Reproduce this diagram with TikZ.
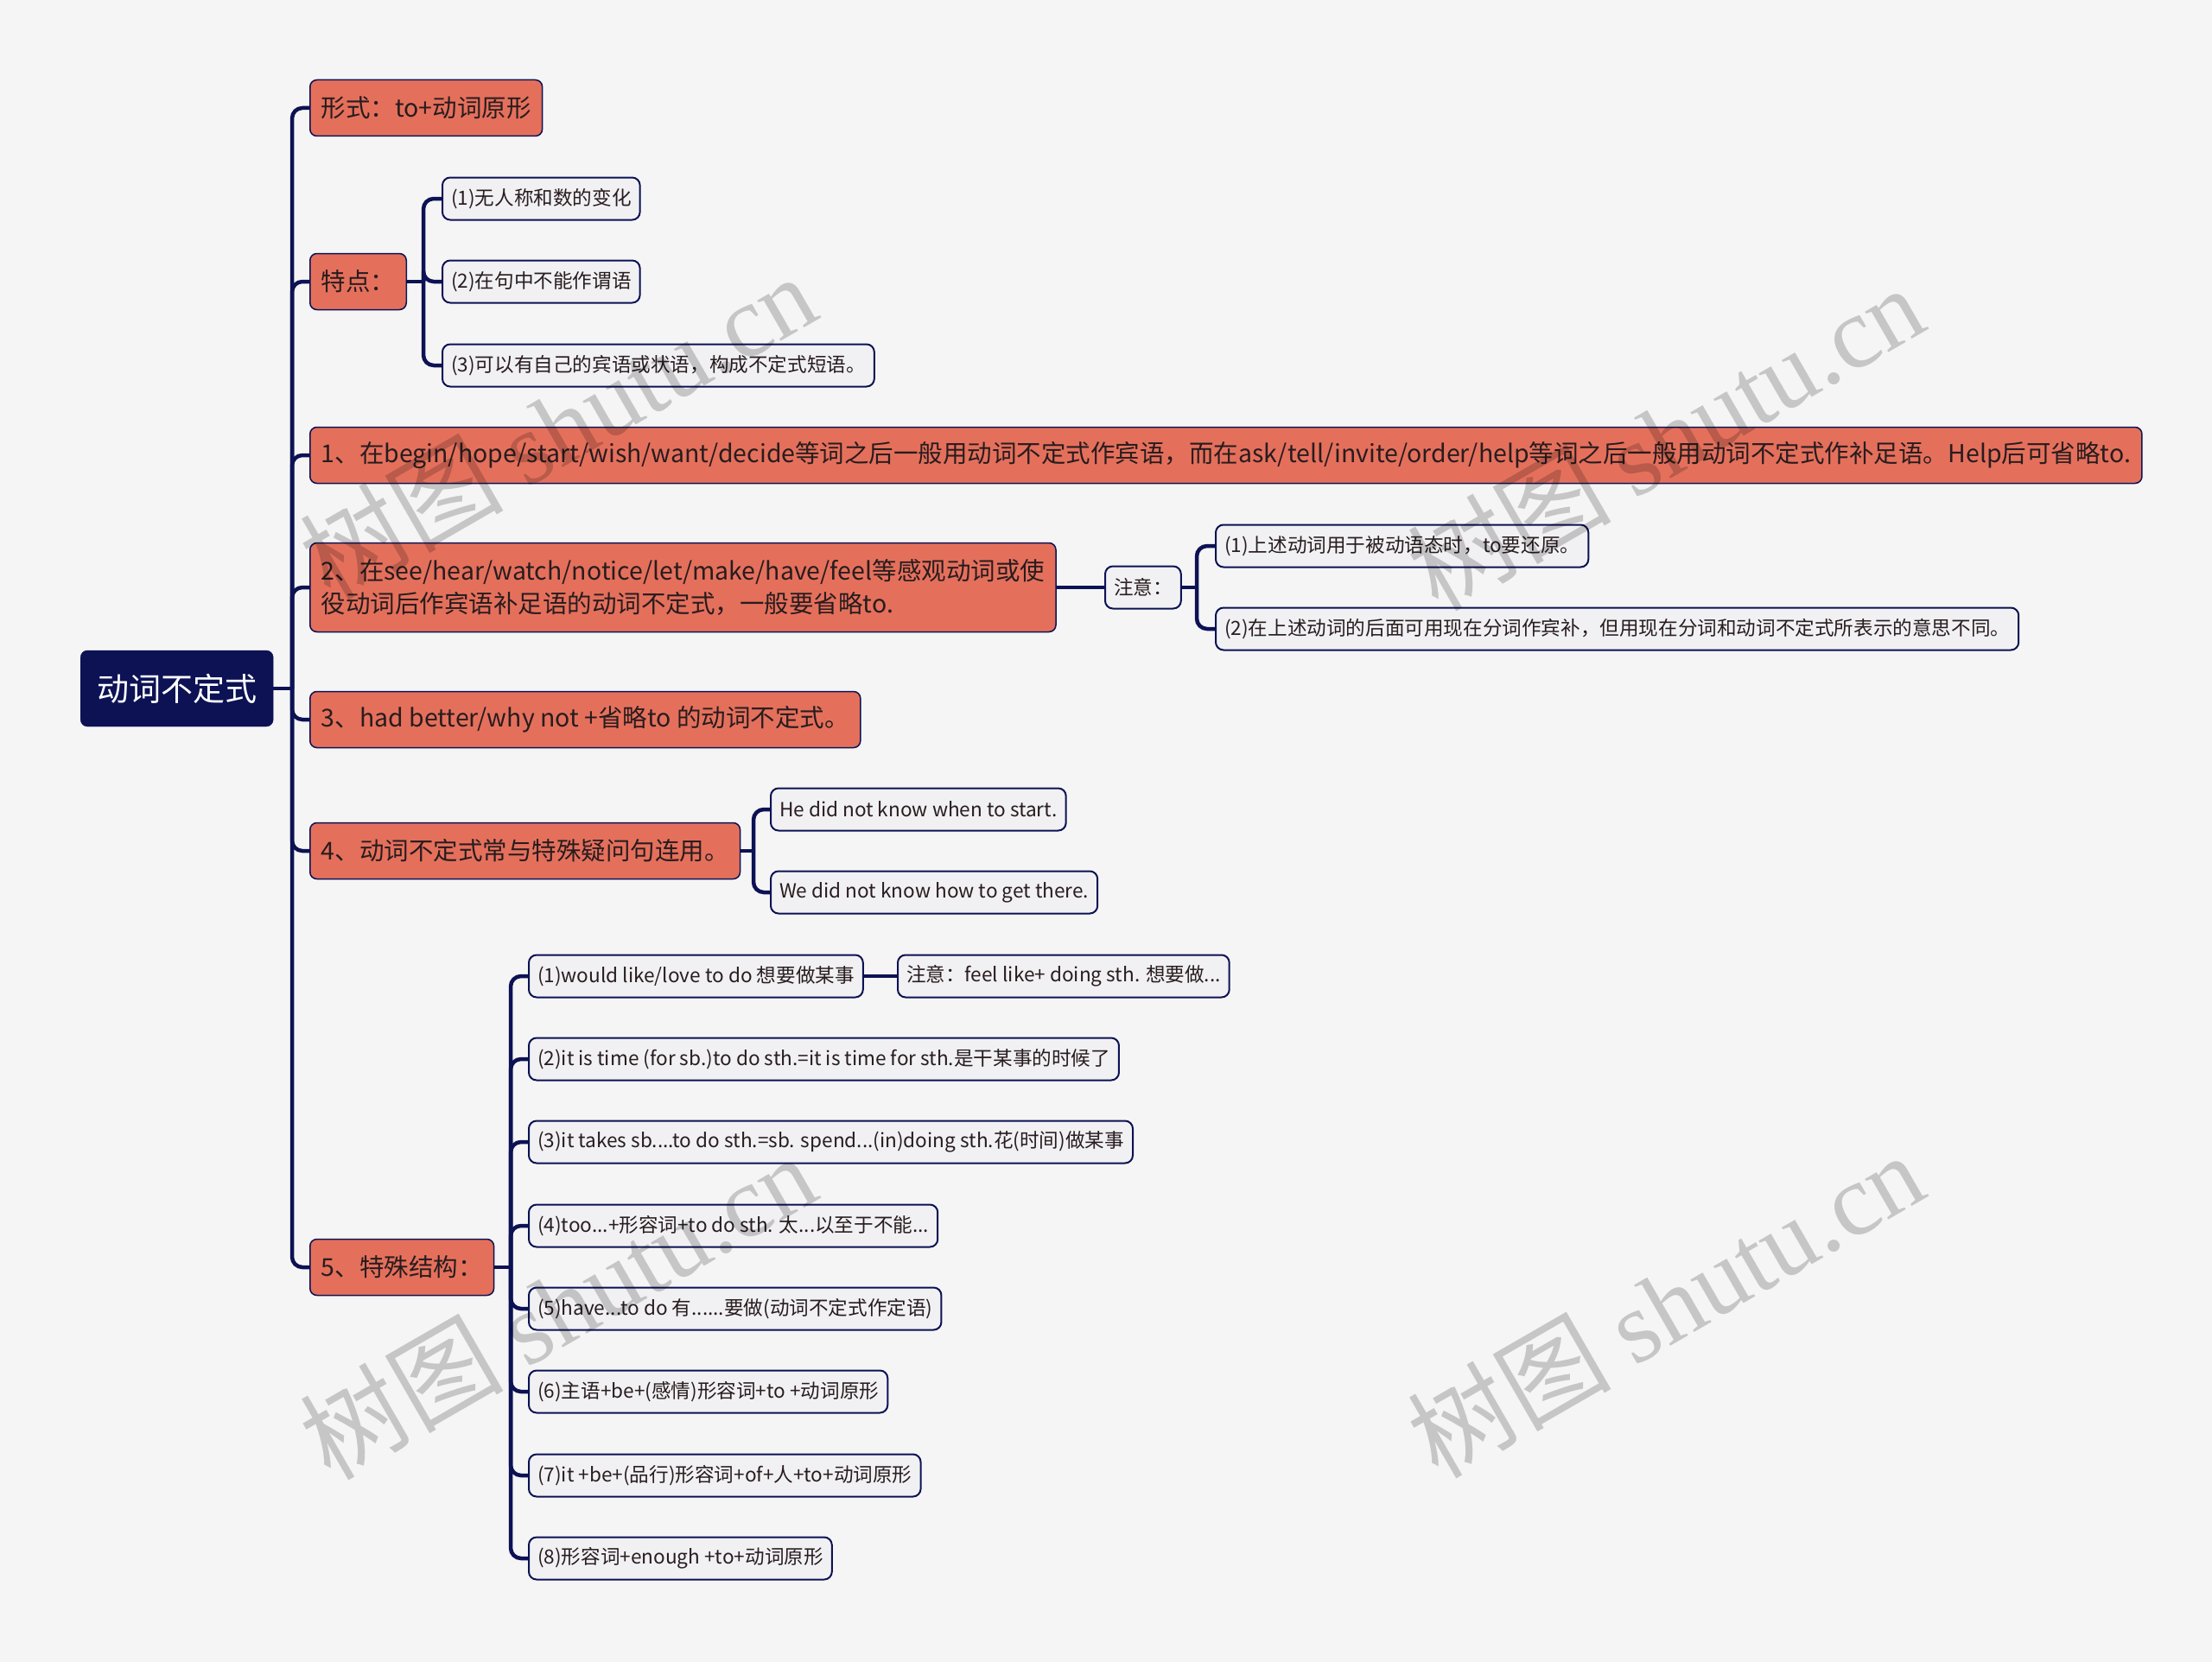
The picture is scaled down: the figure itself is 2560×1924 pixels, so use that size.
\documentclass[tikz,border=0pt]{standalone}
\usepackage{fontspec}
\setmainfont{Noto Sans CJK SC}
\newfontfamily\wmserif{Liberation Serif}
\usetikzlibrary{positioning, calc}
\definecolor{mapnavy}{RGB}{12, 18, 84}
\definecolor{mapcoral}{RGB}{228, 112, 92}
\definecolor{mapleaf}{RGB}{241, 241, 243}
\definecolor{mapbg}{RGB}{245, 245, 245}
\definecolor{mapink}{RGB}{40, 28, 30}

\begin{document}
\begin{tikzpicture}[x=1pt, y=-1pt,
    rootbox/.style={fill=mapnavy, draw=mapnavy, rounded corners=8pt, text=white,
        font=\fontsize{37}{44}\selectfont, minimum height=88pt, inner xsep=19pt, anchor=west},
    topic/.style={fill=mapcoral, draw=mapnavy, line width=1.5pt, rounded corners=8pt, text=mapink,
        font=\fontsize{28.5}{37.5}\selectfont, minimum height=65pt, inner xsep=13pt, anchor=west, align=left},
    leaf/.style={fill=mapleaf, draw=mapnavy, line width=2pt, rounded corners=9pt, text=mapink,
        font=\fontsize{22.6}{28}\selectfont, minimum height=49pt, inner xsep=10pt, anchor=west},
    branch/.style={draw=mapnavy, line width=4.5pt, rounded corners=12pt},
    watermark/.style={text=black, opacity=0.19, rotate=30, font=\fontsize{118}{118}\selectfont}
]
    % Canvas
    \fill[mapbg] (0,0) rectangle (2560,1924);

    % Root
    \node[rootbox] (root) at (93,797) {动词不定式};

    % Main topics
    \node[topic] (form) at (358,125) {形式：to+动词原形};
    \node[topic] (feat) at (358,326) {特点：};
    \node[topic] (r1) at (358,527) {1、在begin/hope/start/wish/want/decide等词之后一般用动词不定式作宾语，而在ask/tell/invite/order/help等词之后一般用动词不定式作补足语。Help后可省略to.};
    \node[topic, minimum height=103pt] (r2) at (358,680) {2、在see/hear/watch/notice/let/make/have/feel等感观动词或使\\役动词后作宾语补足语的动词不定式，一般要省略to.};
    \node[topic] (r3) at (358,833) {3、had better/why not +省略to 的动词不定式。};
    \node[topic] (r4) at (358,985) {4、动词不定式常与特殊疑问句连用。};
    \node[topic] (r5) at (358,1467) {5、特殊结构：};

    % Features
    \node[leaf] (f1) at (511,230) {(1)无人称和数的变化};
    \node[leaf] (f2) at (511,326) {(2)在句中不能作谓语};
    \node[leaf] (f3) at (511,423) {(3)可以有自己的宾语或状语，构成不定式短语。};

    % Note on topic 2
    \node[leaf] (note) at (1278,680) {注意：};
    \node[leaf] (n1) at (1406,632) {(1)上述动词用于被动语态时，to要还原。};
    \node[leaf] (n2) at (1406,728) {(2)在上述动词的后面可用现在分词作宾补，但用现在分词和动词不定式所表示的意思不同。};

    % Examples on topic 4
    \node[leaf] (e1) at (891,937) {He did not know when to start.};
    \node[leaf] (e2) at (891,1033) {We did not know how to get there.};

    % Special structures
    \node[leaf] (s1) at (611,1130) {(1)would like/love to do 想要做某事};
    \node[leaf] (s1note) at (1038,1130) {注意：feel like+ doing sth. 想要做...};
    \node[leaf] (s2) at (611,1226) {(2)it is time (for sb.)to do sth.=it is time for sth.是干某事的时候了};
    \node[leaf] (s3) at (611,1322) {(3)it takes sb....to do sth.=sb. spend...(in)doing sth.花(时间)做某事};
    \node[leaf] (s4) at (611,1419) {(4)too...+形容词+to do sth. 太...以至于不能...};
    \node[leaf] (s5) at (611,1515) {(5)have...to do 有......要做(动词不定式作定语)};
    \node[leaf] (s6) at (611,1611) {(6)主语+be+(感情)形容词+to +动词原形};
    \node[leaf] (s7) at (611,1708) {(7)it +be+(品行)形容词+of+人+to+动词原形};
    \node[leaf] (s8) at (611,1804) {(8)形容词+enough +to+动词原形};

    % Junctions
    \coordinate (rootj) at (338,797);
    \coordinate (featj) at (490,326);
    \coordinate (notej) at (1385,680);
    \coordinate (r4j) at (872,985);
    \coordinate (r5j) at (591,1467);

    % Branches
    \draw[branch] (root.east) -- (rootj);
    \foreach \n in {form,feat,r1,r2,r3,r4,r5}
        \draw[branch] (rootj) |- (\n.west);
    \draw[branch] (feat.east) -- (featj);
    \foreach \n in {f1,f2,f3}
        \draw[branch] (featj) |- (\n.west);
    \draw[branch] (r2.east) -- (note.west);
    \draw[branch] (note.east) -- (notej);
    \foreach \n in {n1,n2}
        \draw[branch] (notej) |- (\n.west);
    \draw[branch] (r4.east) -- (r4j);
    \foreach \n in {e1,e2}
        \draw[branch] (r4j) |- (\n.west);
    \draw[branch] (r5.east) -- (r5j);
    \foreach \n in {s1,s2,s3,s4,s5,s6,s7,s8}
        \draw[branch] (r5j) |- (\n.west);
    \draw[branch] (s1.east) -- (s1note.west);

    % Watermarks
    \node[watermark] (wm1) at (645,493) {树图 {\wmserif shutu.cn}};
    \node[watermark] (wm2) at (1927,506) {树图 {\wmserif shutu.cn}};
    \node[watermark] (wm3) at (645,1512) {树图 {\wmserif shutu.cn}};
    \node[watermark] (wm4) at (1927,1510) {树图 {\wmserif shutu.cn}};
\end{tikzpicture}
\end{document}
